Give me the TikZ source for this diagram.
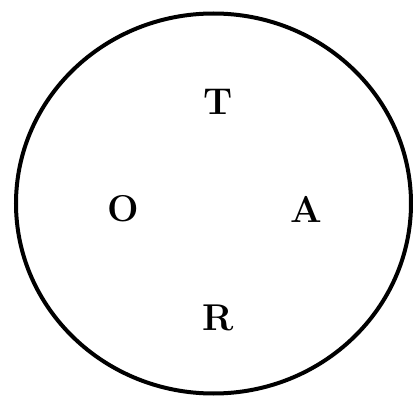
\documentclass[tikz,border=0pt]{standalone}
\newcommand{\bigletter}[1]{\scalebox{1.5}{\Huge\bfseries #1}}
\begin{document}
\begin{tikzpicture}[x=1pt,y=-1pt,
  letter/.style={inner sep=0pt}]
\useasboundingbox (0,0) rectangle (413,396);
\draw[line width=4pt] (213.5,203.5) ellipse [x radius=197.5, y radius=190];
\node[letter] (T) at (218,102) {\bigletter{T}};
\node[letter] (O) at (123,209) {\bigletter{O}};
\node[letter] (A) at (306,209) {\bigletter{A}};
\node[letter] (R) at (218,318) {\bigletter{R}};
\end{tikzpicture}
\end{document}
